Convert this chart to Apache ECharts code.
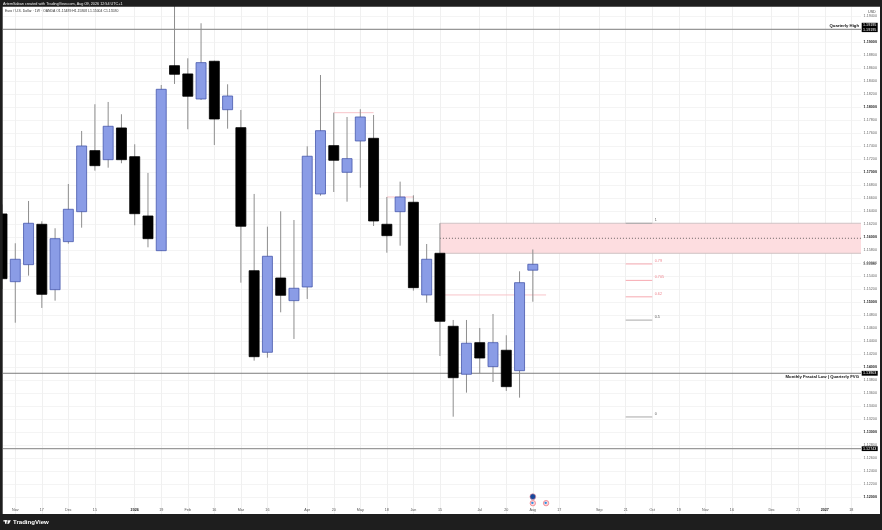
<!DOCTYPE html>
<html>
<head>
<meta charset="utf-8">
<style>html,body{margin:0;padding:0;background:#fff}#c{width:882px;height:530px}</style>
<script src="https://cdn.jsdelivr.net/npm/echarts@6/dist/echarts.min.js"></script>
</head>
<body>
<div id="c"></div>
<script>
// Weekly candles, index 0 is the partly hidden left-most bar
const opens  = [1.16354,1.15312,1.15574,1.16195,1.15189,1.15928,1.16389,1.17328,1.17189,1.17677,1.17235,1.16323,1.15789,1.18635,1.18508,1.18123,1.18703,1.17958,1.17682,1.15481,1.14226,1.15369,1.15020,1.15231,1.16662,1.17405,1.16995,1.17477,1.17518,1.16195,1.16389,1.16534,1.15108,1.15749,1.14626,1.13888,1.14374,1.14005,1.14257,1.13943,1.15489];
const highs  = [1.16500,1.15903,1.16554,1.16241,1.16134,1.16815,1.17631,1.18042,1.18077,1.17888,1.17426,1.16985,1.18338,1.19750,1.18749,1.19288,1.18712,1.18349,1.17954,1.16662,1.16158,1.16395,1.16261,1.17395,1.18492,1.17912,1.17846,1.17965,1.17877,1.16615,1.16851,1.16641,1.15892,1.16211,1.14723,1.14723,1.14600,1.14815,1.14488,1.15472,1.15808];
const lows   = [1.15200,1.14681,1.15405,1.14908,1.15020,1.15897,1.16143,1.17020,1.17066,1.17134,1.16180,1.15841,1.15785,1.18354,1.17657,1.18108,1.17415,1.17666,1.15297,1.14097,1.14143,1.14841,1.14431,1.15046,1.16635,1.16692,1.16543,1.16758,1.16169,1.15758,1.15866,1.15174,1.14989,1.14169,1.13235,1.13605,1.13903,1.13769,1.13631,1.13528,1.15004];
const closes = [1.15358,1.15657,1.16211,1.15118,1.15974,1.16426,1.17400,1.17097,1.17703,1.17189,1.16358,1.15974,1.18272,1.18503,1.18165,1.18682,1.17815,1.18169,1.16165,1.14158,1.15703,1.15103,1.15211,1.17242,1.17635,1.17180,1.17205,1.17846,1.16246,1.16020,1.16615,1.15220,1.15657,1.14703,1.13835,1.14365,1.14138,1.14374,1.13697,1.15297,1.15580];

// Time axis
const timeTickIndex  = [1,3,5,7,10,12,14,16,18,20,23,25,27,29,31,33,36,38,40,42,45,47,49,51,53,55,58,60,62,64];
const timeTickLabels = ['Nov','17','Dec','15','2026','19','Feb','16','Mar','16','Apr','20','May','18','Jun','15','Jul','20','Aug','17','Sep','21','Oct','19','Nov','16','Dec','21','2027','18'];
const boldTimeLabels = ['2026','2027'];

// Price axis
const priceTicks = [1.120,1.122,1.124,1.126,1.128,1.130,1.132,1.134,1.136,1.138,1.140,1.142,1.144,1.146,1.148,1.150,1.152,1.154,1.156,1.158,1.160,1.162,1.164,1.166,1.168,1.170,1.172,1.174,1.176,1.178,1.180,1.182,1.184,1.186,1.188,1.190,1.192,1.194];

// Full-width levels
const levelPrices = [1.19195,1.13903,1.12743];
const levelTexts  = ['Quarterly High','Monthly Fractal Low | Quarterly FVG',''];

// Pink zone
const zoneStart = [33];
const zoneTop = [1.16211];
const zoneBottom = [1.15749];
const zoneMid = [1.15980];

// Short pink lines
const pinkStart = [25,29,33];
const pinkEnd   = [28,31,41];
const pinkPrice = [1.17912,1.16615,1.15108];

// Fibonacci levels
const fibLabels = ['1','0.79','0.705','0.62','0.5','0'];
const fibPrices = [1.16211,1.15585,1.15332,1.15079,1.14721,1.13231];
const fibStart = [47];
const fibEnd = [49];

// Event markers
const eventIndex = [40,40,41];
const eventPrice = [1.12005,1.11905,1.11905];
const eventKind  = ['dot','flag','flag'];

const FONT = '"Liberation Sans", Arial, sans-serif';
const xMin = 0.075, xMax = 64.73, yMin = 1.11738, yMax = 1.19538;
const FRAME = '#1e1e1e';

function txt(text, x, y, fill, size, weight, align) {
  return {type:'text', style:{text, x, y, fill, fontSize:size, fontWeight:weight||'normal', fontFamily:FONT, align:align||'left', verticalAlign:'middle'}};
}
function seg(p0, p1, stroke, lineWidth, dash) {
  return {type:'line', shape:{x1:p0[0], y1:p0[1], x2:p1[0], y2:p1[1]}, style:{stroke, lineWidth, lineDash:dash||null}};
}
function custom(name, z, data, renderItem) {
  return {type:'custom', name, z, silent:true, animation:false, data, encode:{x:0, y:1}, renderItem};
}

const series = [
  custom('zone', 1, zoneStart.map((s,i)=>[s,zoneTop[i],zoneBottom[i],zoneMid[i]]), (p,api)=>{
    const a = api.coord([api.value(0),api.value(1)]), b = api.coord([xMax,api.value(2)]), m = api.coord([xMax,api.value(3)]);
    return {type:'group', children:[
      {type:'rect', shape:{x:a[0],y:a[1],width:b[0]-a[0],height:b[1]-a[1]}, style:{fill:'#fddde0'}},
      seg([a[0],a[1]],[b[0],a[1]],'#cfc2c4',1),
      seg([a[0],b[1]],[b[0],b[1]],'#cfc2c4',1),
      seg([a[0],m[1]],[b[0],m[1]],'#444444',0.8,[1,2])
    ]};
  }),
  custom('levels', 1, levelPrices.map((v,i)=>[xMin,v,i]), (p,api)=>{
    const a = api.coord([xMin,api.value(1)]), b = api.coord([xMax,api.value(1)]);
    const i = api.value(2);
    return seg(a,b, i===2?'#9a9a9a':'#7d7d7d', i===2?1.3:1);
  }),
  custom('pink', 1, pinkStart.map((s,i)=>[s,pinkPrice[i],pinkEnd[i]]), (p,api)=>
    seg(api.coord([api.value(0),api.value(1)]), api.coord([api.value(2),api.value(1)]), '#f8c4c9', 1)
  ),
  custom('fib', 1, fibPrices.map((v,i)=>[fibStart[0],v,fibEnd[0],i]), (p,api)=>{
    const i = api.value(3), pink = i>=1 && i<=3;
    const a = api.coord([api.value(0),api.value(1)]), b = api.coord([api.value(2),api.value(1)]);
    return {type:'group', children:[
      seg(a,b, pink?'#f7a9b1':'#a8a8a8', 1),
      txt(fibLabels[i], b[0]+2.5, a[1]-3, pink?'#ee7f8a':'#555555', 3.7)
    ]};
  }),
  {
    type:'custom', name:'candles', z:2, silent:true, animation:false,
    data: opens.map((o,i)=>[i,o,highs[i],lows[i],closes[i]]),
    encode:{x:0,y:[1,2,3,4]},
    renderItem:(p,api)=>{
      const i = api.value(0), o = api.value(1), h = api.value(2), l = api.value(3), c = api.value(4);
      const up = c >= o;
      const t = api.coord([i,Math.max(o,c)]), b = api.coord([i,Math.min(o,c)]);
      const hp = api.coord([i,h]), lp = api.coord([i,l]);
      const w = 10;
      return {type:'group', children:[
        seg(hp,lp,'#8e8e8e',1),
        {type:'rect', shape:{x:t[0]-w/2,y:t[1],width:w,height:b[1]-t[1]},
         style:{fill:up?'#8a9ce6':'#000000', stroke:up?'#4658ac':'#000000', lineWidth:0.8}}
      ]};
    }
  },
  custom('events', 3, eventIndex.map((x,i)=>[x,eventPrice[i],i]), (p,api)=>{
    const c = api.coord([api.value(0),api.value(1)]), k = eventKind[api.value(2)];
    return k==='dot' ? {type:'group', children:[
      {type:'circle', shape:{cx:c[0],cy:c[1],r:2.9}, style:{fill:'#17489c', stroke:'#ef8f98', lineWidth:0.6}}
    ]} : {type:'group', children:[
      {type:'circle', shape:{cx:c[0],cy:c[1],r:2.7}, style:{fill:'#fbd9dc', stroke:'#ee6f7b', lineWidth:0.7}},
      {type:'circle', shape:{cx:c[0]-0.4,cy:c[1]-0.3,r:1.2}, style:{fill:'#2d8fe3'}}
    ]};
  }),
  custom('tags', 4, levelPrices.map((v,i)=>[xMax,v,i]), (p,api)=>{
    const c = api.coord([xMax,api.value(1)]), i = api.value(2), v = api.value(1);
    const s = v.toFixed(5), x = c[0]+0.7, cx = x+8;
    const children = i===0 ? [
      {type:'rect', shape:{x,y:c[1]-6.5,width:16,height:9.3}, style:{fill:'#000'}},
      txt(s,cx,c[1]-4.2,'#ffffff',3.7,'normal','center'),
      txt(s,cx,c[1]+0.4,'#ffffff',3.7,'normal','center')
    ] : [
      {type:'rect', shape:{x,y:c[1]-2.4,width:16,height:4.8}, style:{fill:'#000'}},
      txt(s,cx,c[1],'#ffffff',3.7,'normal','center')
    ];
    if (levelTexts[i]) children.push(txt(levelTexts[i], c[0]-2, c[1]+(i===0?-3.3:3.4), '#111111', 4.25, 'bold', 'right'));
    return {type:'group', children};
  }),
  custom('lastPrice', 4, [[xMax,closes[closes.length-1]]], (p,api)=>{
    const c = api.coord([xMax,api.value(1)]);
    return txt(api.value(1).toFixed(5), c[0]+8.7, c[1], '#222222', 3.7, 'normal', 'center');
  })
];

const chart = echarts.init(document.getElementById('c'), null, {renderer:'canvas', width:882, height:530});
chart.setOption({
  animation:false,
  backgroundColor:'#ffffff',
  grid:{left:3, right:21, top:7, bottom:16, containLabel:false},
  xAxis:{
    type:'value', min:xMin, max:xMax,
    axisLine:{show:false},
    axisTick:{show:false, customValues:timeTickIndex},
    splitLine:{show:true, lineStyle:{color:'#f0f0f0', width:1}},
    axisLabel:{
      inside:true, margin:1.8, customValues:timeTickIndex, color:'#555555', fontSize:3.7, fontFamily:FONT,
      formatter:(v)=>{
        const s = timeTickLabels[timeTickIndex.indexOf(Math.round(v))] || '';
        return boldTimeLabels.includes(s) ? '{b|'+s+'}' : s;
      },
      rich:{b:{fontWeight:'bold', fontSize:3.7, fontFamily:FONT, color:'#222222'}}
    }
  },
  yAxis:{
    type:'value', position:'right', min:yMin, max:yMax,
    axisLine:{show:false},
    axisTick:{show:false, customValues:priceTicks},
    splitLine:{show:true, lineStyle:{color:'#f4f4f4', width:1}},
    axisLabel:{
      margin:2.6, customValues:priceTicks, color:'#666666', fontSize:3.7, fontFamily:FONT,
      formatter:(v)=>{
        const s = v.toFixed(5);
        return Math.abs(v*100-Math.round(v*100))<1e-6 ? '{b|'+s+'}' : s;
      },
      rich:{b:{fontWeight:'bold', fontSize:3.7, fontFamily:FONT, color:'#222222'}}
    }
  },
  series,
  graphic:[
    {type:'rect', z:100, shape:{x:0,y:0,width:882,height:6.7}, style:{fill:FRAME}},
    {type:'rect', z:100, shape:{x:0,y:514,width:882,height:16}, style:{fill:FRAME}},
    {type:'rect', z:100, shape:{x:0,y:0,width:2.7,height:530}, style:{fill:FRAME}},
    {type:'rect', z:100, shape:{x:880,y:0,width:2,height:530}, style:{fill:FRAME}},
    {type:'text', z:101, style:{text:'ArtemSaban created with TradingView.com, Aug 09, 2026 12:54 UTC+1', x:3, y:4, fill:'#f0f0f0', fontSize:3.75, fontFamily:FONT, verticalAlign:'middle'}},
    {type:'text', z:101, style:{text:'Euro / U.S. Dollar · 1W · OANDA O1.15489 H1.15808 L1.15004 C1.15580', x:5, y:11, fill:'#333333', fontSize:3.45, fontFamily:FONT, verticalAlign:'middle'}},
    {type:'text', z:101, style:{text:'USD', x:868, y:12, fill:'#444444', fontSize:3.7, fontFamily:FONT, verticalAlign:'middle'}},
    {type:'rect', z:101, shape:{x:3.4,y:520.2,width:3.6,height:1.3}, style:{fill:'#ffffff'}},
    {type:'rect', z:101, shape:{x:5,y:520.2,width:1.5,height:3.6}, style:{fill:'#ffffff'}},
    {type:'circle', z:101, shape:{cx:8,cy:521,r:0.8}, style:{fill:'#ffffff'}},
    {type:'polygon', z:101, shape:{points:[[8.6,520.2],[10.8,520.2],[9,523.8],[7.1,523.8]]}, style:{fill:'#ffffff'}},
    {type:'text', z:101, style:{text:'TradingView', x:13, y:522, fill:'#ffffff', fontSize:6.1, fontWeight:'bold', fontFamily:FONT, verticalAlign:'middle'}}
  ]
});
</script>
</body>
</html>
